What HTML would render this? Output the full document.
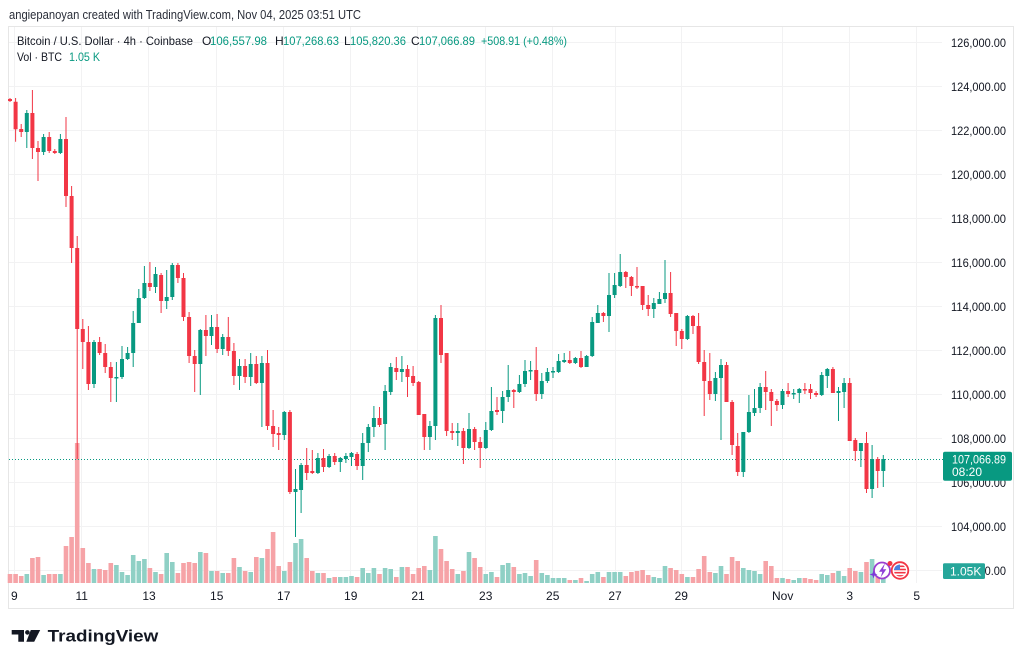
<!DOCTYPE html>
<html><head><meta charset="utf-8"><style>
html,body{margin:0;padding:0;background:#fff;}
body{width:1024px;height:665px;overflow:hidden;}
svg{display:block;font-family:"Liberation Sans",Arial,sans-serif;}
</style></head><body>
<svg width="1024" height="665" viewBox="0 0 1024 665" xmlns="http://www.w3.org/2000/svg">
<rect x="0" y="0" width="1024" height="665" fill="#fff"/>
<text x="9" y="19" font-size="12.5" fill="#2a2e39" textLength="352" lengthAdjust="spacingAndGlyphs">angiepanoyan created with TradingView.com, Nov 04, 2025 03:51 UTC</text>
<rect x="8.5" y="26.5" width="1005" height="582" fill="#fff" stroke="#e6e6e6" stroke-width="1"/>
<g stroke="#f2f2f3" stroke-width="1">
<path d="M9 42.5H942M9 86.5H942M9 130.5H942M9 174.5H942M9 218.5H942M9 262.5H942M9 306.5H942M9 350.5H942M9 394.5H942M9 438.5H942M9 482.5H942M9 526.5H942M9 570.5H942"/>
<path d="M14.5 27V583M81.5 27V583M148.5 27V583M216.5 27V583M283.5 27V583M350.5 27V583M417.5 27V583M485.5 27V583M552.5 27V583M615.5 27V583M681.5 27V583M782.5 27V583M849.5 27V583M916.5 27V583"/>
</g>
<!-- volume -->
<path fill="#f6a3a7" d="M7.7 574h4.6V583h-4.6zM13.3 574h4.6V583h-4.6zM18.9 576h4.6V583h-4.6zM30.1 558h4.6V583h-4.6zM35.7 557h4.6V583h-4.6zM46.9 574h4.6V583h-4.6zM52.5 574h4.6V583h-4.6zM63.7 546h4.6V583h-4.6zM69.3 537h4.6V583h-4.6zM74.9 443h4.6V583h-4.6zM80.5 548h4.6V583h-4.6zM86.1 563h4.6V583h-4.6zM97.3 569h4.6V583h-4.6zM102.9 570h4.6V583h-4.6zM108.5 563h4.6V583h-4.6zM147.6 568h4.6V583h-4.6zM158.8 574h4.6V583h-4.6zM175.6 573h4.6V583h-4.6zM181.2 563h4.6V583h-4.6zM186.8 562h4.6V583h-4.6zM192.4 563h4.6V583h-4.6zM203.6 553h4.6V583h-4.6zM214.8 571h4.6V583h-4.6zM226 573h4.6V583h-4.6zM231.6 558h4.6V583h-4.6zM242.8 571h4.6V583h-4.6zM254 557h4.6V583h-4.6zM265.2 549h4.6V583h-4.6zM270.8 532h4.6V583h-4.6zM276.4 566h4.6V583h-4.6zM287.6 562h4.6V583h-4.6zM304.4 558h4.6V583h-4.6zM310 571h4.6V583h-4.6zM321.2 573h4.6V583h-4.6zM332.4 577h4.6V583h-4.6zM354.8 577h4.6V583h-4.6zM377.2 574h4.6V583h-4.6zM394 577h4.6V583h-4.6zM405.2 567h4.6V583h-4.6zM410.8 574h4.6V583h-4.6zM416.4 568h4.6V583h-4.6zM422 566h4.6V583h-4.6zM438.7 549h4.6V583h-4.6zM444.3 561h4.6V583h-4.6zM449.9 569h4.6V583h-4.6zM461.1 571h4.6V583h-4.6zM472.3 558h4.6V583h-4.6zM477.9 567h4.6V583h-4.6zM494.7 577h4.6V583h-4.6zM511.5 567h4.6V583h-4.6zM533.9 560h4.6V583h-4.6zM567.5 580h4.6V583h-4.6zM578.7 578h4.6V583h-4.6zM601.1 577h4.6V583h-4.6zM623.5 576h4.6V583h-4.6zM629.1 572h4.6V583h-4.6zM634.7 571h4.6V583h-4.6zM640.3 570h4.6V583h-4.6zM645.9 575h4.6V583h-4.6zM668.3 568h4.6V583h-4.6zM673.9 570h4.6V583h-4.6zM679.5 574h4.6V583h-4.6zM690.7 577h4.6V583h-4.6zM696.3 569h4.6V583h-4.6zM701.9 556h4.6V583h-4.6zM707.5 572h4.6V583h-4.6zM724.2 574h4.6V583h-4.6zM729.8 557h4.6V583h-4.6zM735.4 561h4.6V583h-4.6zM763.4 561h4.6V583h-4.6zM769 566h4.6V583h-4.6zM774.6 578h4.6V583h-4.6zM785.8 579h4.6V583h-4.6zM802.6 578h4.6V583h-4.6zM808.2 579h4.6V583h-4.6zM813.8 580h4.6V583h-4.6zM830.6 573h4.6V583h-4.6zM847.4 568h4.6V583h-4.6zM853 571h4.6V583h-4.6zM864.2 562h4.6V583h-4.6zM875.4 565h4.6V583h-4.6z"/>
<path fill="#8fd0c5" d="M24.5 574h4.6V583h-4.6zM41.3 575h4.6V583h-4.6zM58.1 574h4.6V583h-4.6zM91.7 569h4.6V583h-4.6zM114.1 565h4.6V583h-4.6zM119.7 572h4.6V583h-4.6zM125.3 575h4.6V583h-4.6zM130.9 555h4.6V583h-4.6zM136.5 561h4.6V583h-4.6zM142.1 559h4.6V583h-4.6zM153.2 572h4.6V583h-4.6zM164.4 553h4.6V583h-4.6zM170 562h4.6V583h-4.6zM198 552h4.6V583h-4.6zM209.2 571h4.6V583h-4.6zM220.4 573h4.6V583h-4.6zM237.2 567h4.6V583h-4.6zM248.4 572h4.6V583h-4.6zM259.6 558h4.6V583h-4.6zM282 571h4.6V583h-4.6zM293.2 543h4.6V583h-4.6zM298.8 539h4.6V583h-4.6zM315.6 573h4.6V583h-4.6zM326.8 578h4.6V583h-4.6zM338 577h4.6V583h-4.6zM343.6 577h4.6V583h-4.6zM349.2 576h4.6V583h-4.6zM360.4 568h4.6V583h-4.6zM366 573h4.6V583h-4.6zM371.6 568h4.6V583h-4.6zM382.8 568h4.6V583h-4.6zM388.4 569h4.6V583h-4.6zM399.6 567h4.6V583h-4.6zM427.6 570h4.6V583h-4.6zM433.1 536h4.6V583h-4.6zM455.5 574h4.6V583h-4.6zM466.7 552h4.6V583h-4.6zM483.5 574h4.6V583h-4.6zM489.1 572h4.6V583h-4.6zM500.3 565h4.6V583h-4.6zM505.9 563h4.6V583h-4.6zM517.1 574h4.6V583h-4.6zM522.7 573h4.6V583h-4.6zM528.3 576h4.6V583h-4.6zM539.5 573h4.6V583h-4.6zM545.1 575h4.6V583h-4.6zM550.7 578h4.6V583h-4.6zM556.3 578h4.6V583h-4.6zM561.9 578h4.6V583h-4.6zM573.1 580h4.6V583h-4.6zM584.3 581h4.6V583h-4.6zM589.9 574h4.6V583h-4.6zM595.5 572h4.6V583h-4.6zM606.7 572h4.6V583h-4.6zM612.3 572h4.6V583h-4.6zM617.9 572h4.6V583h-4.6zM651.5 577h4.6V583h-4.6zM657.1 578h4.6V583h-4.6zM662.7 566h4.6V583h-4.6zM685.1 577h4.6V583h-4.6zM713.1 573h4.6V583h-4.6zM718.7 566h4.6V583h-4.6zM741 568h4.6V583h-4.6zM746.6 570h4.6V583h-4.6zM752.2 571h4.6V583h-4.6zM757.8 574h4.6V583h-4.6zM780.2 578h4.6V583h-4.6zM791.4 580h4.6V583h-4.6zM797 578h4.6V583h-4.6zM819.4 574h4.6V583h-4.6zM825 575h4.6V583h-4.6zM836.2 571h4.6V583h-4.6zM841.8 576h4.6V583h-4.6zM858.6 572h4.6V583h-4.6zM869.8 559h4.6V583h-4.6zM881 578h4.6V583h-4.6z"/>
<!-- price line -->
<path d="M9 459.5H943" stroke="#089981" stroke-width="1" stroke-dasharray="1 2"/>
<!-- red candles -->
<path fill="none" stroke="#f23645" stroke-width="1" d="M10 98V102M15.6 98V141.7M21.2 124V137M32.4 90V159M38 141V181M49.2 132V153M54.8 149V154M66 117V207M71.6 186V263M77.2 236V459M82.8 319V369M88.4 326V390M99.6 337V355M105.2 344V373M110.8 362V402M149.9 262V291M161.1 273V313M177.9 263V283M183.5 273V321M189.1 312V363M194.7 350V392M205.9 315V356M217.1 314V353M228.3 317V356M233.9 343V385M245.1 359V383M256.3 356V384M267.5 350V430M273.1 410V447M278.7 427V450M289.9 410V494M306.7 448V480M312.3 450V474M323.5 449V472M334.7 453V465M357.1 452V470M379.5 407V427M396.3 357V380M407.5 365V397M413.1 366V386M418.7 381V415M424.3 414V450M441 305V363M446.6 353V436M452.2 423V440M463.4 428V464M474.6 427V450M480.2 437V468M497 397V415M513.8 389V408M536.2 347V401M569.8 351V364M581 351V368M603.4 312V322M625.8 271V288M631.4 276V296M637 267V289M642.6 286V310M648.2 295V316M670.6 272V317M676.2 313V346M681.8 329V349M693 315V334M698.6 313V364M704.2 350V416M709.8 353V400M726.5 362V402M732.1 400V455M737.7 433V476M765.7 371V410M771.3 389V426M776.9 399V411M788.1 383V397M804.9 383V394M810.5 384V399M816.1 391V397M832.9 367V393M849.7 378V441M855.3 438V461M866.5 432V493M877.7 457V488"/>
<path fill="#f23645" d="M8 99h4v2h-4zM13.6 101.7h4v27.6h-4zM19.2 129h4v3h-4zM30.4 113h4v35h-4zM36 148h4v4h-4zM47.2 137h4v14h-4zM52.8 151h4v2h-4zM64 139h4v57h-4zM69.6 196h4v52h-4zM75.2 248h4v81h-4zM80.8 329h4v13h-4zM86.4 342h4v42h-4zM97.6 342h4v11h-4zM103.2 353h4v14h-4zM108.8 367h4v11h-4zM147.9 283h4v4h-4zM159.1 275h4v26h-4zM175.9 265h4v13h-4zM181.5 278h4v39h-4zM187.1 317h4v39h-4zM192.7 356h4v8h-4zM203.9 330h4v6h-4zM215.1 327h4v22h-4zM226.3 337h4v14h-4zM231.9 351h4v25h-4zM243.1 366h4v11h-4zM254.3 364h4v19h-4zM265.5 363h4v63h-4zM271.1 426h4v8h-4zM276.7 433h4v2h-4zM287.9 412h4v80h-4zM304.7 465h4v8h-4zM310.3 471h4v2h-4zM321.5 458h4v9h-4zM332.7 456h4v6h-4zM355.1 454h4v12h-4zM377.5 418h4v7h-4zM394.3 368h4v4h-4zM405.5 369h4v8h-4zM411.1 376h4v7h-4zM416.7 382h4v33h-4zM422.3 414h4v23h-4zM439 318h4v37h-4zM444.6 353h4v78h-4zM450.2 431h4v2h-4zM461.4 431h4v17h-4zM472.6 429h4v13h-4zM478.2 442h4v6h-4zM495 410h4v2h-4zM511.8 390h4v2h-4zM534.2 370h4v24h-4zM567.8 360h4v3h-4zM579 358h4v9h-4zM601.4 313h4v3h-4zM623.8 272h4v5h-4zM629.4 277h4v9h-4zM635 286h4v1.5h-4zM640.6 286h4v19h-4zM646.2 305h4v4h-4zM668.6 293h4v21h-4zM674.2 313h4v18h-4zM679.8 331h4v8h-4zM691 316h4v10h-4zM696.6 326h4v36h-4zM702.2 362h4v19h-4zM707.8 381h4v13h-4zM724.5 365h4v37h-4zM730.1 402h4v43h-4zM735.7 446h4v26h-4zM763.7 387h4v5h-4zM769.3 392h4v9h-4zM774.9 401h4v4h-4zM786.1 391h4v3h-4zM802.9 389h4v1.5h-4zM808.5 389h4v4h-4zM814.1 393h4v2h-4zM830.9 369h4v24h-4zM847.7 383h4v58h-4zM853.3 440h4v11h-4zM864.5 443h4v46h-4zM875.7 459h4v12h-4z"/>
<!-- green candles -->
<path fill="none" stroke="#089981" stroke-width="1" d="M26.8 110V148M43.6 134V155M60.4 134V154M94 340V388M116.4 362V402M122 346V379M127.6 347V360M133.2 311V367M138.8 289V323M144.4 266V299M155.5 267V293M166.7 270V309M172.3 263V300M200.3 329V395M211.5 315V345M222.7 334V355M239.5 359V390M250.7 353V386M261.9 356V427M284.3 411V440M295.5 469V537M301.1 463V513M317.9 453V474M329.1 454V468M340.3 457V472M345.9 453V463M351.5 452V466M362.7 433V480M368.3 424V452M373.9 406V437M385.1 385V450M390.7 363V395M401.9 356V382M429.9 421V450M435.4 315V440M457.8 423V446M469 413V449M485.8 422V449M491.4 387V431M502.6 391V423M508.2 365V402M519.4 375V393M525 360V387M530.6 361V380M541.8 373V399M547.4 368V383M553 367V378M558.6 354V373M564.2 353V363M575.4 357V364M586.6 355V367M592.2 317V357M597.8 305V323M609 273V332M614.6 273V298M620.2 254V287M653.8 298V318M659.4 292V304M665 260V303M687.4 315V340M715.4 372V401M721 359V440M743.3 432V477M748.9 395V433M754.5 389V416M760.1 383V413M782.5 389V409M793.7 389V399M799.3 388V403M821.7 372V396M827.3 368V388M838.5 387V421M844.1 378V408M860.9 443V467M872.1 445V498M883.3 455V487"/>
<path fill="#089981" d="M24.8 113h4v19h-4zM41.6 137h4v15h-4zM58.4 139h4v14h-4zM92 342h4v42h-4zM114.4 377h4v1.5h-4zM120 359h4v18h-4zM125.6 353h4v6h-4zM131.2 323h4v30h-4zM136.8 298h4v25h-4zM142.4 283h4v15h-4zM153.5 274h4v13h-4zM164.7 297h4v4h-4zM170.3 265h4v32h-4zM198.3 330h4v34h-4zM209.5 327h4v9h-4zM220.7 337h4v12h-4zM237.5 366h4v10h-4zM248.7 364h4v13h-4zM259.9 363h4v20h-4zM282.3 412h4v23h-4zM293.5 489h4v3h-4zM299.1 465h4v25h-4zM315.9 458h4v15h-4zM327.1 456h4v11h-4zM338.3 458h4v4h-4zM343.9 456h4v3h-4zM349.5 453h4v4h-4zM360.7 443h4v23h-4zM366.3 427h4v16h-4zM371.9 418h4v9h-4zM383.1 391h4v33h-4zM388.7 367h4v25h-4zM399.9 369h4v3h-4zM427.9 426h4v11h-4zM433.4 318h4v108h-4zM455.8 431h4v2h-4zM467 429h4v19h-4zM483.8 430h4v18h-4zM489.4 411h4v19h-4zM500.6 397h4v14h-4zM506.2 390h4v7h-4zM517.4 384h4v8h-4zM523 371h4v13h-4zM528.6 370h4v1.5h-4zM539.8 381h4v13h-4zM545.4 372h4v9h-4zM551 371h4v1.5h-4zM556.6 361h4v11h-4zM562.2 360h4v2h-4zM573.4 358h4v5h-4zM584.6 356h4v11h-4zM590.2 322h4v34h-4zM595.8 313h4v10h-4zM607 295h4v21h-4zM612.6 285h4v10h-4zM618.2 272h4v14h-4zM651.8 303h4v6h-4zM657.4 299h4v5h-4zM663 293h4v6h-4zM685.4 316h4v23h-4zM713.4 378h4v16h-4zM719 365h4v13h-4zM741.3 432h4v40h-4zM746.9 412h4v20h-4zM752.5 408h4v5h-4zM758.1 387h4v21h-4zM780.5 391h4v14h-4zM791.7 393h4v1.5h-4zM797.3 389h4v4h-4zM819.7 375h4v20h-4zM825.3 369h4v7h-4zM836.5 391h4v2h-4zM842.1 383h4v9h-4zM858.9 443h4v8h-4zM870.1 459h4v30h-4zM881.3 459h4v12h-4z"/>
<!-- icons -->
<g>
<circle cx="882" cy="570.5" r="8" fill="#fff" stroke="#9c3fd0" stroke-width="1.8"/>
<path d="M884.5 564L879 571.8h3.3L880.6 577.5L886.3 569.3h-3.3L884.8 564z" fill="#8e3fd6"/>
<path d="M873.5 570.5l1 3l3 1l-3 1l-1 3l-1-3l-3-1l3-1z" fill="#7a3bd8"/>
<circle cx="900" cy="570.5" r="8.3" fill="#fff" stroke="#f23645" stroke-width="1.8"/>
<clipPath id="fc"><circle cx="900" cy="570.5" r="6"/></clipPath>
<g clip-path="url(#fc)">
<rect x="893" y="564" width="14" height="13" fill="#fff"/>
<rect x="893" y="565.5" width="14" height="1.6" fill="#f23645"/>
<rect x="893" y="568.7" width="14" height="1.6" fill="#f23645"/>
<rect x="893" y="571.9" width="14" height="1.6" fill="#f23645"/>
<rect x="893" y="575.1" width="14" height="1.6" fill="#f23645"/>
<rect x="893" y="564" width="7" height="6" fill="#4a7fe0"/>
</g>
<circle cx="890" cy="563.5" r="2.5" fill="#f23645"/>
</g>
<!-- legend -->
<g font-size="12" fill="#131722">
<text x="17" y="45" textLength="176" lengthAdjust="spacingAndGlyphs">Bitcoin / U.S. Dollar · 4h · Coinbase</text>
<text x="202" y="45">O</text>
<text x="210" y="45" fill="#089981" textLength="57" lengthAdjust="spacingAndGlyphs">106,557.98</text>
<text x="275" y="45">H</text>
<text x="283" y="45" fill="#089981" textLength="56" lengthAdjust="spacingAndGlyphs">107,268.63</text>
<text x="344" y="45">L</text>
<text x="350" y="45" fill="#089981" textLength="56" lengthAdjust="spacingAndGlyphs">105,820.36</text>
<text x="411" y="45">C</text>
<text x="419" y="45" fill="#089981" textLength="56" lengthAdjust="spacingAndGlyphs">107,066.89</text>
<text x="481" y="45" fill="#089981" textLength="86" lengthAdjust="spacingAndGlyphs">+508.91 (+0.48%)</text>
<text x="17" y="61" textLength="45" lengthAdjust="spacingAndGlyphs">Vol · BTC</text>
<text x="69" y="61" fill="#089981" textLength="31" lengthAdjust="spacingAndGlyphs">1.05 K</text>
</g>
<!-- price axis -->
<g font-size="12" fill="#131722">
<text x="951" y="47" textLength="55" lengthAdjust="spacingAndGlyphs">126,000.00</text>
<text x="951" y="91" textLength="55" lengthAdjust="spacingAndGlyphs">124,000.00</text>
<text x="951" y="135" textLength="55" lengthAdjust="spacingAndGlyphs">122,000.00</text>
<text x="951" y="179" textLength="55" lengthAdjust="spacingAndGlyphs">120,000.00</text>
<text x="951" y="223" textLength="55" lengthAdjust="spacingAndGlyphs">118,000.00</text>
<text x="951" y="267" textLength="55" lengthAdjust="spacingAndGlyphs">116,000.00</text>
<text x="951" y="311" textLength="55" lengthAdjust="spacingAndGlyphs">114,000.00</text>
<text x="951" y="355" textLength="55" lengthAdjust="spacingAndGlyphs">112,000.00</text>
<text x="951" y="399" textLength="55" lengthAdjust="spacingAndGlyphs">110,000.00</text>
<text x="951" y="443" textLength="55" lengthAdjust="spacingAndGlyphs">108,000.00</text>
<text x="951" y="487" textLength="55" lengthAdjust="spacingAndGlyphs">106,000.00</text>
<text x="951" y="531" textLength="55" lengthAdjust="spacingAndGlyphs">104,000.00</text>
<text x="951" y="575" textLength="55" lengthAdjust="spacingAndGlyphs">102,000.00</text>
</g>
<rect x="943" y="451.7" width="69" height="29" rx="2" fill="#089981"/>
<text x="952" y="463.5" font-size="12" fill="#fff" textLength="54" lengthAdjust="spacingAndGlyphs">107,066.89</text>
<text x="952" y="476" font-size="12" fill="#fff">08:20</text>
<rect x="943" y="563.3" width="42" height="15.7" rx="1.5" fill="#26a69a"/>
<text x="950" y="575.5" font-size="12" fill="#fff">1.05K</text>
<!-- time axis -->
<g font-size="12" fill="#131722" text-anchor="middle">
<text x="14.3" y="600">9</text>
<text x="81.7" y="600">11</text>
<text x="149" y="600">13</text>
<text x="216.7" y="600">15</text>
<text x="283.7" y="600">17</text>
<text x="350.7" y="600">19</text>
<text x="418" y="600">21</text>
<text x="485.7" y="600">23</text>
<text x="552.7" y="600">25</text>
<text x="615" y="600">27</text>
<text x="681.3" y="600">29</text>
<text x="782.7" y="600">Nov</text>
<text x="849.7" y="600">3</text>
<text x="916.7" y="600">5</text>
</g>
<!-- logo -->
<g fill="#131722">
<path d="M11.7 630h12.3v11.7h-5.7v-7.2h-6.6z"/>
<circle cx="27.4" cy="632.4" r="2.3"/>
<path d="M30.8 630H40.2L34.2 641.7H26.3z"/>
<text x="47.7" y="641.7" font-size="17" font-weight="bold" textLength="110.6" lengthAdjust="spacingAndGlyphs">TradingView</text>
</g>
</svg>
</body></html>
